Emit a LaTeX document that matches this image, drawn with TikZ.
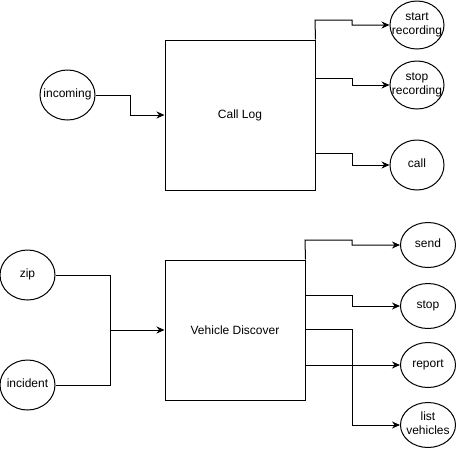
\documentclass[tikz,border=0pt]{standalone}
\usepackage{fontspec}
\setmainfont{Liberation Sans}
\usetikzlibrary{arrows.meta,shapes.geometric}
% label that may overhang its ellipse without growing it
\newcommand{\ovtext}[1]{\makebox[0pt][c]{\begin{tabular}{@{}c@{}}#1\end{tabular}}}
\begin{document}
\begin{tikzpicture}[x=1pt,y=-1pt,
  font=\fontsize{12}{13.5}\selectfont,
  line width=1pt,
  blk/.style={draw, rectangle, inner sep=0pt},
  oval/.style={draw, ellipse, inner sep=0pt},
  wire/.style={draw, line join=miter},
  arr/.style={wire, -{Stealth[length=8pt,width=7pt]}}]
\useasboundingbox[fill=white] (0,0) rectangle (456,451);

% --- Call Log group ---
\node[blk, minimum width=150pt, minimum height=150pt] (calllog) at (240,115) {Call Log};
\node[oval, minimum width=55pt, minimum height=50pt] (incoming) at (67.5,95) {\ovtext{incoming}};
\node[oval, minimum width=54pt, minimum height=48pt] (startrec) at (417,25) {\ovtext{start\\recording}};
\node[oval, minimum width=54pt, minimum height=48pt] (stoprec) at (417,85) {\ovtext{stop\\recording}};
\node[oval, minimum width=54pt, minimum height=50pt] (call) at (417,165) {\ovtext{call}};

\draw[arr] (incoming.east) -| (130,115) -- (calllog.west);
\draw[arr] (calllog.north east) -- (315,20) -| (352,25) -- (startrec.west);
\draw[arr] ([yshift=37pt]calllog.east) -| (352,85) -- (stoprec.west);
\draw[arr] ([yshift=-38pt]calllog.east) -| (352,165) -- (call.west);

% --- Vehicle Discover group ---
\node[blk, minimum width=140pt, minimum height=140pt] (vd) at (235,330) {Vehicle Discover};
\node[oval, minimum width=55pt, minimum height=50pt] (zip) at (27.5,275) {\ovtext{zip}};
\node[oval, minimum width=55pt, minimum height=50pt] (incident) at (27.5,385) {\ovtext{incident}};
\node[oval, minimum width=55pt, minimum height=45pt] (send) at (428,245) {\ovtext{send}};
\node[oval, minimum width=55pt, minimum height=45pt] (stop) at (428,306) {\ovtext{stop}};
\node[oval, minimum width=55pt, minimum height=45pt] (report) at (428,365) {\ovtext{report}};
\node[oval, minimum width=55pt, minimum height=45pt] (listv) at (428,425) {\ovtext{list\\vehicles}};

\draw[arr] (zip.east) -| (110,330) -- (vd.west);
\draw[wire] (incident.east) -| (110,330);
\draw[arr] (vd.north east) -- (305,240) -| (352,245) -- (send.west);
\draw[arr] ([yshift=35pt]vd.east) -| (352,306) -- (stop.west);
\draw[arr] ([yshift=-35pt]vd.east) -- (report.west);
\draw[arr] ([yshift=1pt]vd.east) -| (352,425) -- (listv.west);
\end{tikzpicture}
\end{document}
